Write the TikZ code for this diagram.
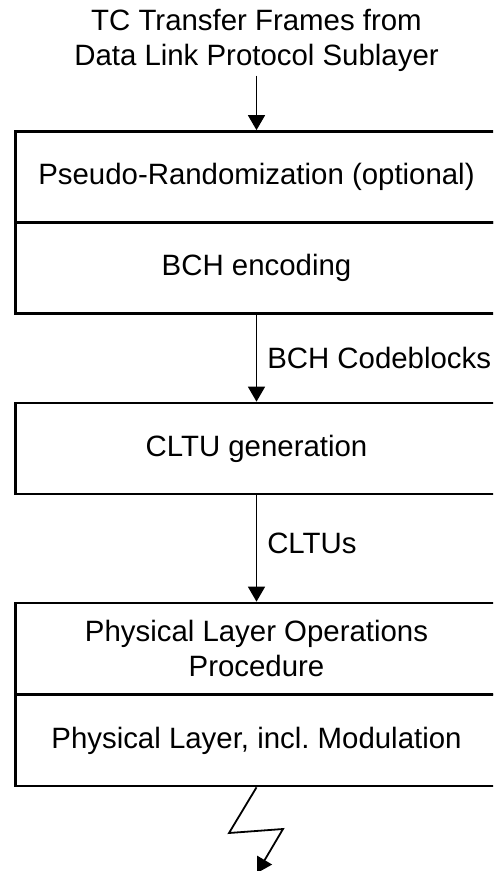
\documentclass[tikz,border=0pt]{standalone}
\usepackage{fontspec}
\setmainfont{Liberation Sans}
\usepackage{tikz}
\usetikzlibrary{arrows, arrows.meta}
\frenchspacing

\begin{document}
\begin{tikzpicture}[x=0.5pt, y=-0.5pt, >={Triangle[width=8.5pt,length=7.5pt]},
	every node/.style={font=\fontsize{14.7}{17.5}\selectfont},
	layer/.style={draw, line width=1.35pt, minimum width=241pt, minimum height=45.5pt, inner sep=0pt, align=center},
	flow/.style={->, line width=0.75pt}]
	\useasboundingbox (0,0) rectangle (493,871);
	\clip (0,0) rectangle (493,871);

	%input text
	\node[align=center, inner sep=2pt] (frames) at (256.5,40) {TC Transfer Frames from\\Data Link Protocol Sublayer};

	%layers
	\node[layer] (pseudo) at (256.5,177)   {Pseudo-Randomization (optional)};
	\node[layer] (bch)    at (256.5,268)   {BCH encoding};
	\node[layer] (cltu)   at (256.5,448.5) {CLTU generation};
	\node[layer] (plop)   at (256.5,648.5) {Physical Layer Operations\\Procedure};
	\node[layer] (phys)   at (256.5,740.5) {Physical Layer, incl.\ Modulation};

	%arrows
	\draw[flow] (frames) -- (pseudo);
	\draw[flow] (bch)  -- node[right, inner sep=0pt, xshift=5pt] {BCH Codeblocks} (cltu);
	\draw[flow] (cltu) -- node[pos=0.45, right, inner sep=0pt, xshift=5pt] {CLTUs} (plop);

	%lightning
	\coordinate (z1)  at (229,833);
	\coordinate (z2)  at (283,829);
	\coordinate (air) at (257,873);
	\draw[->, line width=0.9pt] (phys.south) -- (z1) -- (z2) -- (air);
\end{tikzpicture}
\end{document}
